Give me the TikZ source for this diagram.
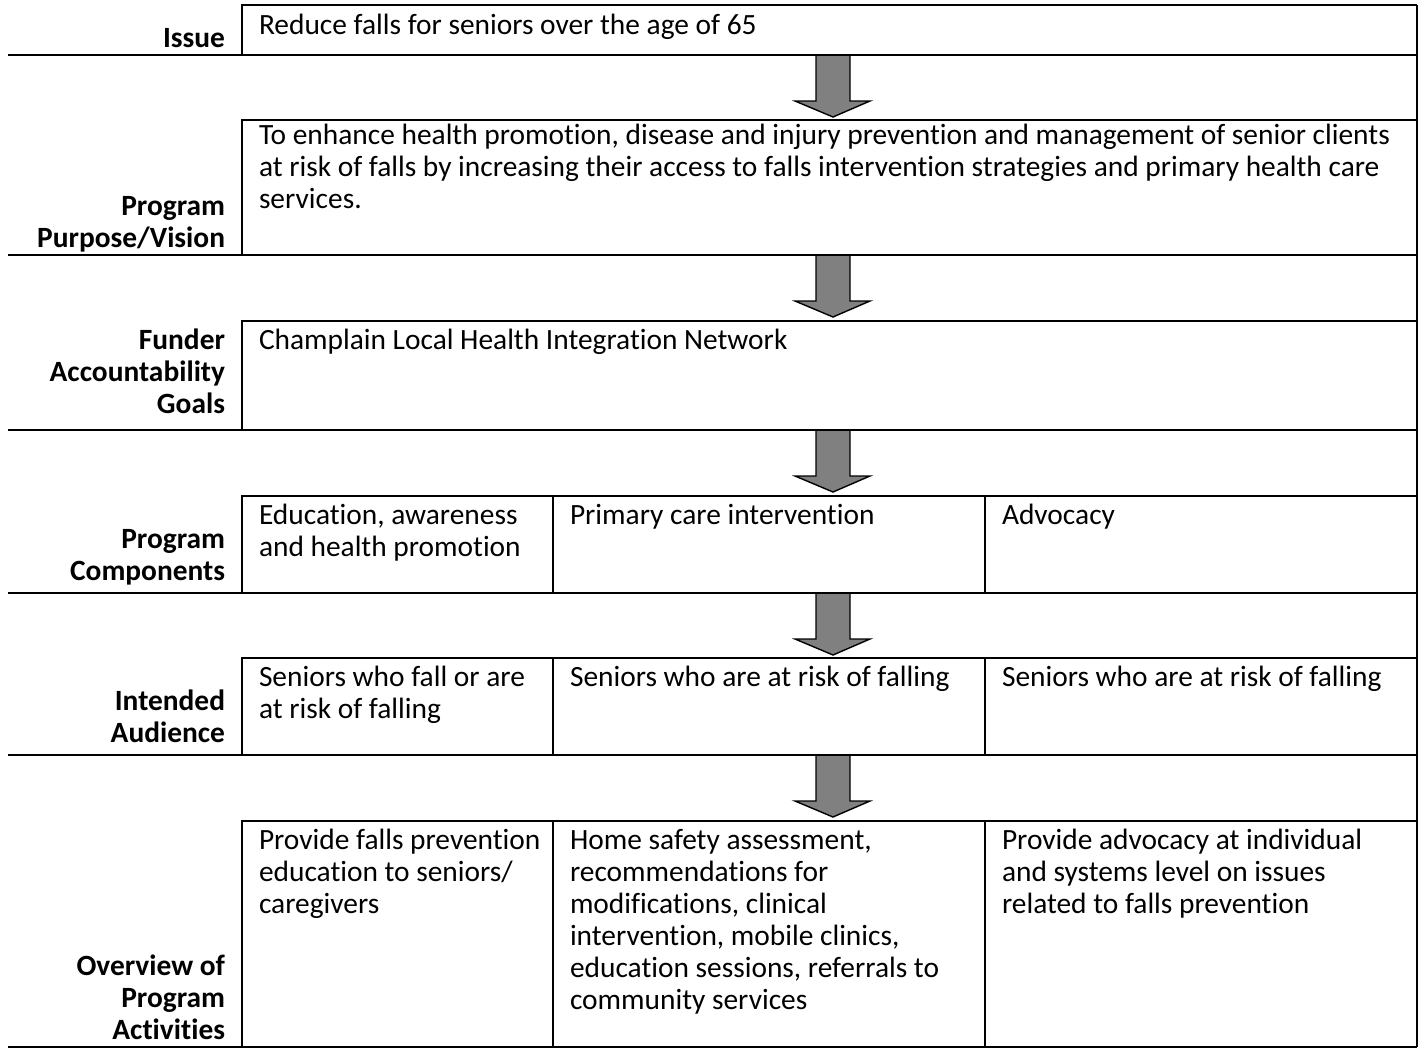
\documentclass[tikz,border=0pt]{standalone}
\usepackage{fontspec}
\setmainfont{Carlito}[Ligatures=NoCommon]
\definecolor{arrowgray}{RGB}{128,128,128}
\newcommand{\cellfont}{\fontsize{14.7}{16}\selectfont}
\tikzset{
  cell/.style={anchor=base west, inner sep=0pt, align=left, font=\cellfont},
  head/.style={anchor=base east, inner sep=0pt, align=right, font=\cellfont\bfseries},
  blockarrow/.style={fill=arrowgray, draw=black, line width=0.7pt, line join=miter}
}
\begin{document}
\begin{tikzpicture}[x=0.5pt, y=-0.5pt, line width=1pt]
\useasboundingbox (0,0) rectangle (1425,1049);
% down arrows between the rows
\foreach \top in {55,255,430,593,755}
{
	\filldraw[blockarrow] (816,\top) -- (816,{\top+46}) -- (795,{\top+46}) -- (833,{\top+62})
		-- (870,{\top+46}) -- (850,{\top+46}) -- (850,\top) -- cycle;
}
% rows
\foreach \top/\bot in {5/55,120/255,321/430,496/593,658/755,821/1047}
{
	\draw (1417,\top) -- (242,\top) -- (242,\bot);
	\draw (8,\bot) -- (1417,\bot);
}
\draw (1417,5) -- (1417,1047);
\foreach \top/\bot in {496/593,658/755,821/1047}
{
	\draw (553,\top) -- (553,\bot) (985,\top) -- (985,\bot);
}
% row labels (placed at the baseline of their last line)
\node[head] (issue) at (226,47) {Issue};
\node[head] (purpose) at (226,247) {Program\\Purpose/Vision};
\node[head] (funder) at (226,413) {Funder\\Accountability\\Goals};
\node[head] (components) at (226,580) {Program\\Components};
\node[head] (audience) at (226,742) {Intended\\Audience};
\node[head] (activities) at (226,1039) {Overview of\\Program\\Activities};
% cell texts (also at the baseline of their last line)
\node[cell] (issuetext) at (258,34) {Reduce falls for seniors over the age of 65};
\node[cell] (purposetext) at (258,208) {To enhance health promotion, disease and injury prevention and management of senior clients\\at risk of falls by increasing their access to falls intervention strategies and primary health care\\services.};
\node[cell] (fundertext) at (258,349) {Champlain Local Health Integration Network};
\node[cell] (compA) at (258,556) {Education, awareness\\and health promotion};
\node[cell] (compB) at (569,524) {Primary care intervention};
\node[cell] (compC) at (1001,524) {Advocacy};
\node[cell] (audA) at (258,718) {Seniors who fall or are\\at risk of falling};
\node[cell] (audB) at (569,686) {Seniors who are at risk of falling};
\node[cell] (audC) at (1001,686) {Seniors who are at risk of falling};
\node[cell] (actA) at (258,913) {Provide falls prevention\\education to seniors/\\caregivers};
\node[cell] (actB) at (569,1009) {Home safety assessment,\\recommendations for\\modifications, clinical\\intervention, mobile clinics,\\education sessions, referrals to\\community services};
\node[cell] (actC) at (1001,913) {Provide advocacy at individual\\and systems level on issues\\related to falls prevention};
\end{tikzpicture}
\end{document}
